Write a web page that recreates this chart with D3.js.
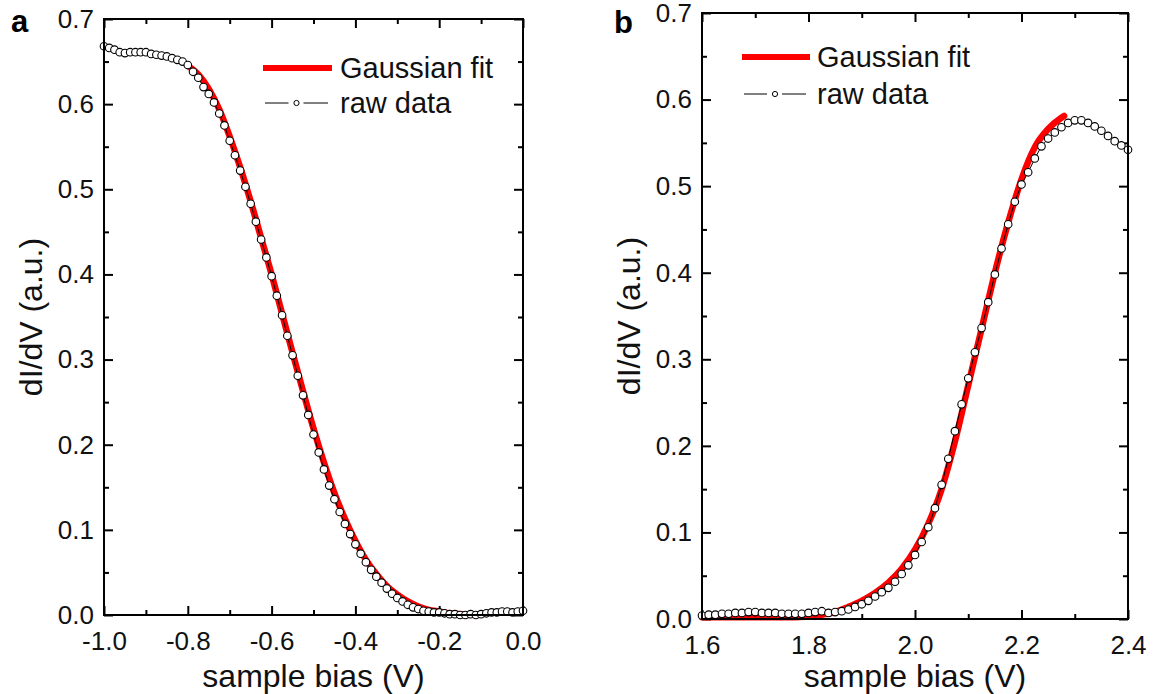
<!DOCTYPE html>
<html>
<head>
<meta charset="utf-8">
<script src="https://cdn.jsdelivr.net/npm/d3@7"></script>
<style>
  body { margin: 0; background: #fff; }
  svg { font-family: "Liberation Sans", Arial, sans-serif; }
</style>
</head>
<body>
<svg id="chart" width="1155" height="694"></svg>
<script>
// ---- data ----
var biasA = [-1,-0.9875,-0.975,-0.9625,-0.95,-0.9375,-0.925,-0.9125,-0.9,-0.8875,
  -0.875,-0.8625,-0.85,-0.8375,-0.825,-0.8125,-0.8,-0.7875,-0.775,-0.7625,
  -0.75,-0.7375,-0.725,-0.7125,-0.7,-0.6875,-0.675,-0.6625,-0.65,-0.6375,
  -0.625,-0.6125,-0.6,-0.5875,-0.575,-0.5625,-0.55,-0.5375,-0.525,-0.5125,
  -0.5,-0.4875,-0.475,-0.4625,-0.45,-0.4375,-0.425,-0.4125,-0.4,-0.3875,
  -0.375,-0.3625,-0.35,-0.3375,-0.325,-0.3125,-0.3,-0.2875,-0.275,-0.2625,
  -0.25,-0.2375,-0.225,-0.2125,-0.2,-0.1875,-0.175,-0.1625,-0.15,-0.1375,
  -0.125,-0.1125,-0.1,-0.0875,-0.075,-0.0625,-0.05,-0.0375,-0.025,-0.0125,0];
var rawA = [0.668,0.666,0.664,0.661,0.660,0.661,0.661,0.661,0.661,0.659,
  0.658,0.657,0.656,0.654,0.652,0.650,0.646,0.638,0.631,0.620,
  0.612,0.602,0.589,0.575,0.557,0.540,0.522,0.503,0.483,0.462,
  0.441,0.420,0.398,0.375,0.352,0.328,0.305,0.281,0.258,0.235,
  0.212,0.191,0.171,0.152,0.136,0.121,0.107,0.095,0.083,0.072,
  0.062,0.053,0.045,0.038,0.031,0.025,0.020,0.016,0.012,0.009,
  0.007,0.005,0.004,0.003,0.003,0.002,0.001,0.001,0.000,0.000,
  0.001,0.000,0.001,0.002,0.003,0.003,0.004,0.004,0.003,0.004,
  0.005];
var fitBiasA = [-0.8,-0.775,-0.75,-0.725,-0.7,-0.675,-0.65,-0.625,-0.6,-0.575,
  -0.55,-0.525,-0.5,-0.475,-0.45,-0.425,-0.4,-0.375,-0.35,-0.325,
  -0.3,-0.275,-0.25,-0.225,-0.2,-0.175,-0.15,-0.13];
var fitA = [0.645,0.635,0.618,0.594,0.562,0.526,0.486,0.443,0.400,0.354,
  0.308,0.263,0.219,0.179,0.143,0.113,0.087,0.065,0.048,0.034,
  0.024,0.016,0.010,0.006,0.004,0.002,0.001,0.000];

var biasB = [1.6,1.6125,1.625,1.6375,1.65,1.6625,1.675,1.6875,1.7,1.7125,
  1.725,1.7375,1.75,1.7625,1.775,1.7875,1.8,1.8125,1.825,1.8375,
  1.85,1.8625,1.875,1.8875,1.9,1.9125,1.925,1.9375,1.95,1.9625,
  1.975,1.9875,2.0,2.0125,2.025,2.0375,2.05,2.0625,2.075,2.0875,
  2.1,2.1125,2.125,2.1375,2.15,2.1625,2.175,2.1875,2.2,2.2125,
  2.225,2.2375,2.25,2.2625,2.275,2.2875,2.3,2.3125,2.325,2.3375,
  2.35,2.3625,2.375,2.3875,2.4];
var rawB = [0.004,0.005,0.005,0.006,0.006,0.007,0.007,0.008,0.008,0.007,
  0.007,0.007,0.006,0.006,0.006,0.006,0.007,0.008,0.009,0.007,
  0.008,0.009,0.011,0.014,0.017,0.021,0.026,0.031,0.036,0.043,
  0.052,0.062,0.074,0.089,0.106,0.128,0.155,0.185,0.217,0.248,
  0.278,0.308,0.336,0.366,0.398,0.428,0.456,0.482,0.502,0.516,
  0.532,0.546,0.555,0.562,0.568,0.573,0.576,0.576,0.573,0.569,
  0.564,0.558,0.552,0.547,0.542];
var fitBiasB = [1.6,1.65,1.7,1.75,1.8,1.825,1.85,1.875,1.9,1.925,
  1.95,1.975,2.0,2.025,2.05,2.075,2.1,2.125,2.15,2.175,
  2.2,2.225,2.25,2.275,2.28];
var fitB = [0.002,0.002,0.002,0.002,0.003,0.005,0.008,0.014,0.021,0.030,
  0.042,0.058,0.080,0.110,0.150,0.205,0.270,0.335,0.400,0.458,
  0.508,0.545,0.566,0.579,0.581];

var yTicks = [0, 0.1, 0.2, 0.3, 0.4, 0.5, 0.6, 0.7];
var yTickLabels = ["0.0", "0.1", "0.2", "0.3", "0.4", "0.5", "0.6", "0.7"];
var yMinor = [0.05, 0.15, 0.25, 0.35, 0.45, 0.55, 0.65];

var xTicksA = [-1.0, -0.8, -0.6, -0.4, -0.2, 0.0];
var xTickLabelsA = ["-1.0", "-0.8", "-0.6", "-0.4", "-0.2", "0.0"];
var xMinorA = [-0.9, -0.7, -0.5, -0.3, -0.1];

var xTicksB = [1.6, 1.8, 2.0, 2.2, 2.4];
var xTickLabelsB = ["1.6", "1.8", "2.0", "2.2", "2.4"];
var xMinorB = [1.7, 1.9, 2.1, 2.3];

var legendLabels = ["Gaussian fit", "raw data"];

// ---- layout ----
var svg = d3.select("#chart");

var panels = [
  {name: "a", l: 104, r: 523, t: 19, b: 615, xDom: [-1, 0],
   xt: xTicksA, xl: xTickLabelsA, xm: xMinorA,
   bias: biasA, raw: rawA, fbias: fitBiasA, fit: fitA,
   labX: 11, labY: 32, ytX: 31, leg: {x1: 263, x2: 332, y1: 68, y2: 103, tx: 340}},
  {name: "b", l: 702, r: 1128, t: 13, b: 619, xDom: [1.6, 2.4],
   xt: xTicksB, xl: xTickLabelsB, xm: xMinorB,
   bias: biasB, raw: rawB, fbias: fitBiasB, fit: fitB,
   labX: 614, labY: 33, ytX: 629, leg: {x1: 742, x2: 810, y1: 57, y2: 94, tx: 817}}
];

panels.forEach(function(p) {
  var x = d3.scaleLinear().domain(p.xDom).range([p.l, p.r]);
  var y = d3.scaleLinear().domain([0, 0.7]).range([p.b, p.t]);
  var g = svg.append("g");

  // axes: ticks point inward on all four sides
  function style(sel) {
    sel.select(".domain").remove();
    sel.selectAll(".tick line").attr("stroke", "#000").attr("stroke-width", 2);
    sel.selectAll("text").attr("fill", "#111").attr("font-size", 26)
      .attr("font-family", "Liberation Sans, Arial, sans-serif");
  }
  g.append("g").attr("transform", "translate(0," + p.b + ")")
    .call(d3.axisBottom(x).tickValues(p.xt).tickSize(-9).tickPadding(17)
      .tickFormat(function(d, i) { return p.xl[i]; })).call(style);
  g.append("g").attr("transform", "translate(0," + p.b + ")")
    .call(d3.axisBottom(x).tickValues(p.xm).tickSize(-5).tickFormat("")).call(style);
  g.append("g").attr("transform", "translate(0," + p.t + ")")
    .call(d3.axisTop(x).tickValues(p.xt).tickSize(-9).tickFormat("")).call(style);
  g.append("g").attr("transform", "translate(0," + p.t + ")")
    .call(d3.axisTop(x).tickValues(p.xm).tickSize(-5).tickFormat("")).call(style);
  g.append("g").attr("transform", "translate(" + p.l + ",0)")
    .call(d3.axisLeft(y).tickValues(yTicks).tickSize(-9).tickPadding(10)
      .tickFormat(function(d, i) { return yTickLabels[i]; })).call(style);
  g.append("g").attr("transform", "translate(" + p.l + ",0)")
    .call(d3.axisLeft(y).tickValues(yMinor).tickSize(-5).tickFormat("")).call(style);
  g.append("g").attr("transform", "translate(" + p.r + ",0)")
    .call(d3.axisRight(y).tickValues(yTicks).tickSize(-9).tickFormat("")).call(style);
  g.append("g").attr("transform", "translate(" + p.r + ",0)")
    .call(d3.axisRight(y).tickValues(yMinor).tickSize(-5).tickFormat("")).call(style);

  // fit line (red, thick)
  var fitPts = p.fbias.map(function(v, i) { return [v, p.fit[i]]; });
  var line = d3.line().x(function(d) { return x(d[0]); }).y(function(d) { return y(d[1]); })
    .curve(d3.curveMonotoneX);
  g.append("path").datum(fitPts).attr("d", line)
    .attr("fill", "none").attr("stroke", "#ff0000").attr("stroke-width", 6.5)
    .attr("stroke-linecap", "round");

  // raw data: thin line + open circles
  var rawPts = p.bias.map(function(v, i) { return [v, p.raw[i]]; });
  g.append("path").datum(rawPts).attr("d", line.curve(d3.curveLinear))
    .attr("fill", "none").attr("stroke", "#000").attr("stroke-width", 1);
  g.selectAll("circle.raw").data(rawPts).enter().append("circle")
    .attr("class", "raw")
    .attr("cx", function(d) { return x(d[0]); })
    .attr("cy", function(d) { return y(d[1]); })
    .attr("r", 3.8).attr("fill", "#fff").attr("stroke", "#000").attr("stroke-width", 1.1);

  // frame
  g.append("rect").attr("x", p.l).attr("y", p.t)
    .attr("width", p.r - p.l).attr("height", p.b - p.t)
    .attr("fill", "none").attr("stroke", "#000").attr("stroke-width", 2);

  // legend
  var L = p.leg;
  g.append("line").attr("x1", L.x1).attr("x2", L.x2).attr("y1", L.y1).attr("y2", L.y1)
    .attr("stroke", "#ff0000").attr("stroke-width", 6);
  g.append("text").attr("x", L.tx).attr("y", L.y1).attr("dy", "0.35em")
    .attr("font-size", 29).attr("fill", "#111").text(legendLabels[0]);
  var mid = (L.x1 + L.x2) / 2;
  g.append("line").attr("x1", L.x1 + 2).attr("x2", mid - 9).attr("y1", L.y2).attr("y2", L.y2)
    .attr("stroke", "#000").attr("stroke-width", 1);
  g.append("line").attr("x1", mid + 6).attr("x2", L.x2 - 4).attr("y1", L.y2).attr("y2", L.y2)
    .attr("stroke", "#000").attr("stroke-width", 1);
  g.append("circle").attr("cx", mid - 1).attr("cy", L.y2).attr("r", 2.6)
    .attr("fill", "#fff").attr("stroke", "#000").attr("stroke-width", 1);
  g.append("text").attr("x", L.tx).attr("y", L.y2).attr("dy", "0.35em")
    .attr("font-size", 29).attr("fill", "#111").text(legendLabels[1]);

  // titles
  g.append("text").attr("x", (p.l + p.r) / 2).attr("y", 687)
    .attr("text-anchor", "middle").attr("font-size", 32).attr("fill", "#111")
    .text("sample bias (V)");
  g.append("text").attr("transform", "translate(" + p.ytX + "," + ((p.t + p.b) / 2) + ") rotate(-90)")
    .attr("text-anchor", "middle").attr("dy", "0.35em").attr("font-size", 32).attr("fill", "#111")
    .text("dI/dV (a.u.)");
  g.append("text").attr("x", p.labX).attr("y", p.labY)
    .attr("font-size", 31).attr("font-weight", "bold").attr("fill", "#000")
    .text(p.name);
});
</script>
</body>
</html>
